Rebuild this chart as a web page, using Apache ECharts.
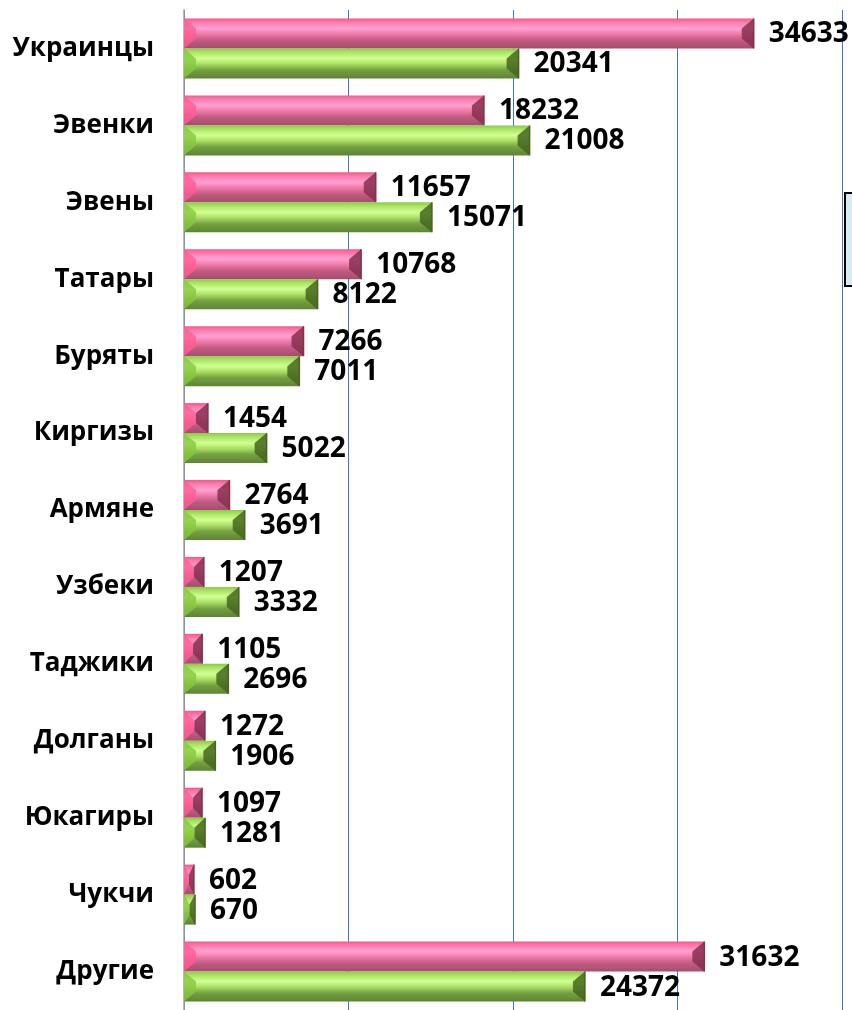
<!DOCTYPE html>
<html>
<head>
<meta charset="utf-8">
<script src="https://cdn.jsdelivr.net/npm/echarts@6/dist/echarts.min.js"></script>
<style>
  html, body { margin: 0; padding: 0; background: #fff; }
  #chart { width: 852px; height: 1010px; }
</style>
</head>
<body>
<div id="chart"></div>
<script>
var categories = ['Украинцы', 'Эвенки', 'Эвены', 'Татары', 'Буряты', 'Киргизы', 'Армяне',
    'Узбеки', 'Таджики', 'Долганы', 'Юкагиры', 'Чукчи', 'Другие'];
var values2002 = [34633, 18232, 11657, 10768, 7266, 1454, 2764, 1207, 1105, 1272, 1097, 602, 31632];
var values2010 = [20341, 21008, 15071, 8122, 7011, 5022, 3691, 3332, 2696, 1906, 1281, 670, 24372];
var axisTicks = [0, 10000, 20000, 30000, 40000];

var pinkStyle = {
    face: [[0, '#ee5a8c'], [0.12, '#ff78aa'], [0.33, '#ffa2d6'], [0.5, '#f27cab'], [0.72, '#c25b82'], [1, '#a54d6e']],
    left: '#ff5c94',
    right: '#86304f'
};
var greenStyle = {
    face: [[0, '#8cc94a'], [0.12, '#a8e462'], [0.33, '#d2ff94'], [0.5, '#aee266'], [0.72, '#75a042'], [1, '#5e8434']],
    left: '#86c83e',
    right: '#46661f'
};

function toData(arr) {
    var out = [];
    for (var k = 0; k < arr.length; k++) out.push([arr[k], k]);
    return out;
}

function gradient(stops) {
    return new echarts.graphic.LinearGradient(0, 0, 0, 1, stops.map(function (s) {
        return { offset: s[0], color: s[1] };
    }));
}

// bar with bevelled ends, like the office 3D style
function makeRender(st, shift) {
    return function (params, api) {
        var val = api.value(0), cat = api.value(1);
        var start = api.coord([0, cat]);
        var end = api.coord([val, cat]);
        var band = api.size([0, 1])[1];
        var h = band * 0.39;
        var y0 = start[1] + (shift < 0 ? -h : 0);
        var y1 = y0 + h;
        var x0 = start[0], x1 = end[0];
        var w = x1 - x0;
        var d = Math.min(12, w / 2);
        var dv = Math.min(10, h / 2);
        return {
            type: 'group',
            children: [
                { type: 'rect', shape: { x: x0, y: y0, width: w, height: h }, style: { fill: gradient(st.face) } },
                { type: 'polygon', shape: { points: [[x0, y0], [x0 + d, y0 + dv], [x0 + d, y1 - dv], [x0, y1]] },
                    style: { fill: st.left, opacity: 0.8 } },
                { type: 'polygon', shape: { points: [[x1, y0], [x1 - d, y0 + dv], [x1 - d, y1 - dv], [x1, y1]] },
                    style: { fill: st.right, opacity: 0.85 } },
                { type: 'line', shape: { x1: x1, y1: y0, x2: x1, y2: y1 }, style: { stroke: st.right, lineWidth: 1.5 } },
                { type: 'text', style: { text: String(val), x: x1 + 15, y: (y0 + y1) / 2 + 1, verticalAlign: 'middle',
                    font: 'bold 28px "Open Sans"', fill: '#000' } }
            ]
        };
    };
}

var chart = echarts.init(document.getElementById('chart'));
var option = {
    animation: false,
    grid: { left: 184, right: 10, top: 10, height: 1005 },
    xAxis: {
        type: 'value',
        min: axisTicks[0],
        max: axisTicks[axisTicks.length - 1],
        interval: 10000,
        axisLine: { show: false },
        axisTick: { show: false },
        axisLabel: { show: false },
        splitLine: { lineStyle: { color: '#4472c4', width: 1 } }
    },
    yAxis: {
        type: 'category',
        data: categories,
        inverse: true,
        axisLine: { lineStyle: { color: '#a0a0a0', width: 1.5 } },
        axisTick: { length: 10, lineStyle: { color: '#a0a0a0', width: 1.5 } },
        axisLabel: { margin: 30, fontSize: 26, fontWeight: 'bold', color: '#000', fontFamily: 'Open Sans',
            padding: [5, 0, 0, 0] }
    },
    series: [
        { name: '2002', type: 'custom', renderItem: makeRender(pinkStyle, -1), encode: { x: 0, y: 1 }, data: toData(values2002) },
        { name: '2010', type: 'custom', renderItem: makeRender(greenStyle, 1), encode: { x: 0, y: 1 }, data: toData(values2010) }
    ],
    graphic: [
        { type: 'rect', left: 844, top: 192, shape: { width: 20, height: 93 },
            style: { fill: '#d6ecf2', stroke: '#000', lineWidth: 2 } }
    ]
};
chart.setOption(option);
</script>
</body>
</html>
